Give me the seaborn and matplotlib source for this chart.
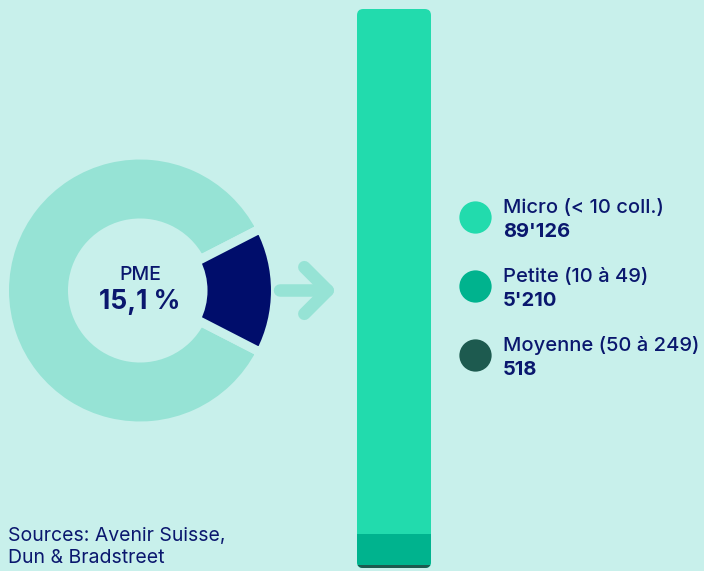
"""Recreation of the SME share donut + company-size stacked bar."""
import matplotlib
matplotlib.use("Agg")
import matplotlib.pyplot as plt
from matplotlib.patches import FancyBboxPatch
import pandas as pd
import seaborn as sns

# data
pme_share = 15.1
share_label = "15,1 %"
centre_label = "PME"
size_labels = ["Micro (< 10 coll.)", "Petite (10 à 49)", "Moyenne (50 à 249)"]
size_counts = [89126, 5210, 518]
count_labels = ["89'126", "5'210", "518"]
source_text = "Sources: Avenir Suisse,\nDun & Bradstreet"

# colours
BG = "#C8F0EB"
RING = "#96E3D5"
NAVY = "#000D6B"
TEXT = "#0A176E"
SIZE_COLORS = ["#22DBAD", "#00B38E", "#1D5A4F"]


def run():
    sns.set_theme(style="white")
    plt.rcParams["font.family"] = ["Inter", "DejaVu Sans"]

    fig = plt.figure(figsize=(7.04, 5.71), dpi=100, facecolor=BG)

    # donut (+ arrow) -------------------------------------------------------
    ax_d = fig.add_axes([-10 / 704, 130.5 / 571, 360 / 704, 300 / 571])

    values = [pme_share, 100 - pme_share]
    start = -pme_share / 100 * 180
    gap = dict(edgecolor=BG, linewidth=6.5)

    ring, _ = ax_d.pie(values, colors=["none", RING], startangle=start,
                       radius=1.355, wedgeprops=dict(width=0.68, **gap))
    ring[0].set_visible(False)
    navy, _ = ax_d.pie(values, colors=[NAVY, "none"], startangle=start,
                       radius=1.355, wedgeprops=dict(width=0.725, **gap))
    navy[1].set_visible(False)
    ax_d.set_xlim(-1.5, 2.1)
    ax_d.set_ylim(-1.5, 1.5)
    ax_d.set_aspect("auto")
    ax_d.axis("off")

    ax_d.text(0, 0.155, centre_label, ha="center", va="center",
              fontsize=14, fontweight="medium", color=TEXT)
    ax_d.text(0, -0.115, share_label, ha="center", va="center",
              fontsize=19, fontweight="bold", color=TEXT)

    ax_d.annotate("", xy=(1.965, 0), xytext=(1.40, 0),
                  arrowprops=dict(arrowstyle="->,head_length=1.05,head_width=1.05",
                                  mutation_scale=16, lw=9, color=RING,
                                  capstyle="round", joinstyle="round",
                                  shrinkA=0, shrinkB=0))

    # stacked bar (cumulative, drawn largest first) --------------------------
    cum = pd.Series(size_counts[::-1]).cumsum()[::-1].tolist()
    bar_df = pd.DataFrame({"group": ["PME"] * 3, "size": size_labels, "cum": cum})
    ax_b = fig.add_axes([357 / 704, 3 / 571, 74 / 704, 559 / 571])
    sns.barplot(data=bar_df, x="group", y="cum", hue="size", hue_order=size_labels,
                palette=SIZE_COLORS, dodge=False, width=1, saturation=1,
                legend=False, ax=ax_b)
    total = sum(size_counts)
    ax_b.set_xlim(-0.5, 0.5)
    ax_b.set_ylim(0, total)
    ax_b.axis("off")

    # rounded corners
    aspect = (total / 559) / (1 / 74)
    clip = FancyBboxPatch((-0.5, 0), 1, total,
                          boxstyle="round,pad=0,rounding_size=0.085",
                          mutation_aspect=aspect, transform=ax_b.transData,
                          facecolor="none", edgecolor="none")
    ax_b.add_patch(clip)
    for p in ax_b.patches:
        if p is not clip:
            p.set_edgecolor("none")
            p.set_clip_path(clip)

    # legend ----------------------------------------------------------------
    ax_l = fig.add_axes([450 / 704, 180 / 571, 254 / 704, 211 / 571])
    ax_l.set_xlim(0, 254)
    ax_l.set_ylim(211, 0)
    ax_l.axis("off")
    for i, (name, num, col) in enumerate(zip(size_labels, count_labels, SIZE_COLORS)):
        y = 37 + 69 * i
        ax_l.scatter([25], [y], s=540, color=col, linewidths=0)
        ax_l.text(53, y - 4, name, fontsize=14.5, fontweight="medium",
                  color=TEXT, va="baseline")
        ax_l.text(53, y + 20, num, fontsize=14.5, fontweight="bold",
                  color=TEXT, va="baseline")

    fig.text(8 / 704, 4 / 571, source_text, fontsize=14, color=TEXT,
             ha="left", va="bottom", linespacing=1.3)

    fig.savefig("out.png", dpi=100, facecolor=BG)


if __name__ == "__main__":
    run()
